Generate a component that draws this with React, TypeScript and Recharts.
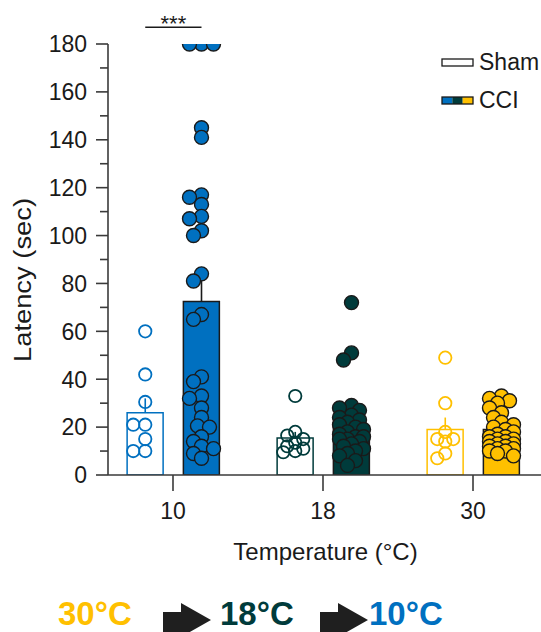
import React from "react";
import { ComposedChart, Bar, Cell, Line, Scatter, XAxis, YAxis, ReferenceLine, Legend } from "recharts";

const FONT = "'Liberation Sans', Arial, Helvetica, sans-serif";
const AXIS = "#3a3a3a";
const INK = "#1a1a1a";

const temps = ["10", "18", "30"];
const tempColors = ["#0070C0", "#003B3B", "#FFC000"];
const yTicks = [0, 10, 20, 30, 40, 50, 60, 70, 80, 90, 100, 110, 120, 130, 140, 150, 160, 170, 180];

// group means / SEM (sec)
const shamMean = [26, 15.5, 19];
const shamSem = [6, 2.5, 5];
const cciMean = [72.5, 20.5, 19];
const cciSem = [10, 2.8, 1.4];

// individual animals (sec)
const sham10 = [60, 42, 30.5, 21, 21, 15, 10, 10];
const cci10 = [180, 180, 180, 145, 141, 117, 116, 113, 108, 107, 102, 100, 84, 81, 67, 65, 41, 39, 33, 32, 28, 24, 20.5, 20, 16, 14, 12, 11, 9, 7];
const sham18 = [33, 18, 16.5, 15, 13.5, 12, 11, 10, 9.5];
const cci18 = [72, 51, 48, 29, 28, 27, 25, 24, 23, 22, 21, 20, 19, 18, 17, 16, 16, 15, 15, 14, 13, 12, 11, 10, 9, 8, 6, 4];
const sham30 = [49, 30, 18, 15, 15, 14, 9, 7];
const cci30 = [33, 32, 31, 30, 28, 26, 24, 22, 21, 20, 19, 18, 17, 16, 16, 15, 15, 14, 14, 13, 13, 12, 12, 11, 11, 10, 10, 9, 8];

const shamPts = [sham10, sham18, sham30];
const cciPts = [cci10, cci18, cci30];

// layout
const W = 541;
const CHART_H = 590;
const TOP = 44;
const BOTTOM = 475;
const LEFT = 108;
const xDomain = [-0.4333, 2.4533];
const pxPerX = (W - LEFT) / (xDomain[1] - xDomain[0]);
const pxPerSec = (BOTTOM - TOP) / 180;
const SHAM_DX = -0.185;
const CCI_DX = 0.19;

// simple beeswarm so overlapping animals spread sideways like the prism plot
function swarm(values: number[], cx: number) {
  const placed: { dx: number; dy: number }[] = [];
  const steps = [0, -4, 4, -8, 8, -12, 12];
  const minDist = 8.5;
  return values.map((v) => {
    const py = v * pxPerSec;
    let best = 0;
    let bestD = -1;
    for (const dx of steps) {
      let d = Infinity;
      for (const p of placed) d = Math.min(d, Math.hypot(p.dx - dx, p.dy - py));
      if (d >= minDist) {
        best = dx;
        break;
      }
      if (d > bestD) {
        bestD = d;
        best = dx;
      }
    }
    placed.push({ dx: best, dy: py });
    return { x: cx + best / pxPerX, y: v };
  });
}

const groups = temps.flatMap((t, i) => [
  { key: `sham${t}`, sham: true, x: i + SHAM_DX, mean: shamMean[i], sem: shamSem[i], pts: shamPts[i], color: tempColors[i] },
  { key: `cci${t}`, sham: false, x: i + CCI_DX, mean: cciMean[i], sem: cciSem[i], pts: cciPts[i], color: tempColors[i] },
]);

const barData = groups.map((g) => ({ x: g.x, mean: g.mean }));

const YTick = (props: any) => {
  const { x, y, payload } = props;
  const major = payload.value % 20 === 0;
  return (
    <g>
      <line x1={major ? x + 9 : x + 13} x2={x + 21} y1={y} y2={y} stroke={AXIS} strokeWidth={1.6} />
      {major && (
        <text x={x} y={y} dy="0.36em" textAnchor="end" fontSize={23} fontFamily={FONT} fill={INK}>
          {payload.value}
        </text>
      )}
    </g>
  );
};

const LegendBox = () => (
  <div style={{ fontFamily: FONT, fontSize: 23, color: INK, lineHeight: "38px" }}>
    <div style={{ display: "flex", alignItems: "center" }}>
      <svg width={33} height={9}>
        <rect x={1} y={1} width={31} height={7} fill="#fff" stroke={INK} strokeWidth={1.3} />
      </svg>
      <span style={{ marginLeft: 5 }}>Sham</span>
    </div>
    <div style={{ display: "flex", alignItems: "center" }}>
      <svg width={33} height={9}>
        <rect x={1} y={1} width={10.3} height={7} fill={tempColors[0]} />
        <rect x={11.3} y={1} width={10.4} height={7} fill={tempColors[1]} />
        <rect x={21.7} y={1} width={10.3} height={7} fill={tempColors[2]} />
        <rect x={1} y={1} width={31} height={7} fill="none" stroke={INK} strokeWidth={1.3} />
      </svg>
      <span style={{ marginLeft: 5 }}>CCI</span>
    </div>
  </div>
);

export default function App() {
  return (
    <div style={{ position: "absolute", left: 0, top: 0, width: W, height: 632, background: "#fff", overflow: "hidden", fontFamily: FONT }}>
      <ComposedChart width={W} height={CHART_H} data={barData} margin={{ top: TOP, right: 0, bottom: 0, left: 0 }}>
        <XAxis
          dataKey="x"
          type="number"
          domain={xDomain}
          allowDataOverflow
          ticks={[0, 1, 2]}
          interval={0}
          tickFormatter={(v: number) => temps[v]}
          height={CHART_H - BOTTOM}
          tickSize={16}
          tickMargin={12}
          axisLine={{ stroke: AXIS, strokeWidth: 1.6 }}
          tickLine={{ stroke: AXIS, strokeWidth: 1.6 }}
          tick={{ fill: INK, fontSize: 23, fontFamily: FONT }}
          label={() => (
            <text x={(LEFT + W) / 2 + 1} y={560} textAnchor="middle" fontSize={24} fontFamily={FONT} fill={INK}>
              Temperature (°C)
            </text>
          )}
        />
        <XAxis xAxisId="pts" dataKey="x" type="number" domain={xDomain} allowDataOverflow hide />
        <YAxis
          type="number"
          domain={[0, 180]}
          allowDataOverflow
          ticks={yTicks}
          interval={0}
          width={LEFT}
          tickLine={false}
          tickSize={12}
          tickMargin={9}
          tick={<YTick />}
          axisLine={{ stroke: AXIS, strokeWidth: 1.6 }}
          label={() => (
            <text
              x={23}
              y={280}
              transform="rotate(-90 23 280)"
              textAnchor="middle"
              dominantBaseline="central"
              fontSize={23}
              textLength={164}
              lengthAdjust="spacingAndGlyphs"
              fontFamily={FONT}
              fill={INK}
            >
              Latency (sec)
            </text>
          )}
        />
        <Legend layout="vertical" align="center" verticalAlign="middle" wrapperStyle={{ left: 441, top: 43, width: 100 }} content={() => <LegendBox />} />
        <Bar dataKey="mean" barSize={36} isAnimationActive={false}>
          {groups.map((g) => (
            <Cell key={g.key} fill={g.sham ? "#fff" : g.color} stroke={g.sham ? g.color : INK} strokeWidth={1.5} />
          ))}
        </Bar>
        {groups.map((g) => (
          <Line
            key={`err-${g.key}`}
            data={[
              { x: g.x, y: g.mean },
              { x: g.x, y: g.mean + g.sem },
            ]}
            dataKey="y"
            stroke={g.sham ? g.color : INK}
            strokeWidth={1.6}
            dot={false}
            activeDot={false}
            isAnimationActive={false}
          />
        ))}
        {groups.map((g) => (
          <Scatter
            key={`pts-${g.key}`}
            xAxisId="pts"
            data={swarm(g.pts, g.x)}
            dataKey="y"
            isAnimationActive={false}
            shape={(p: any) =>
              g.sham ? (
                <circle cx={p.cx} cy={p.cy} r={6.2} fill="none" stroke={g.color} strokeWidth={1.8} />
              ) : (
                <circle cx={p.cx} cy={p.cy} r={7} fill={g.color} stroke={INK} strokeWidth={1.4} />
              )
            }
          />
        ))}
        <ReferenceLine
          segment={[
            { x: SHAM_DX, y: 187 },
            { x: CCI_DX, y: 187 },
          ]}
          stroke={INK}
          strokeWidth={1.5}
          ifOverflow="visible"
          label={(p: any) => {
            const vb = p.viewBox || { x: 146, y: 27, width: 56 };
            return (
              <text x={vb.x + vb.width / 2} y={vb.y + 4} textAnchor="middle" fontSize={22} fontFamily={FONT} fill={INK}>
                ***
              </text>
            );
          }}
        />
      </ComposedChart>
      <svg style={{ position: "absolute", left: 0, top: 560 }} width={W} height={72}>
        <text x={58} y={65} fontSize={33} fontWeight="bold" fontFamily={FONT} fill={tempColors[2]}>
          30°C
        </text>
        <polygon points="163,52 181,52 181,43 211,60 181,77 181,72 163,72" fill="#1f1f1f" />
        <text x={220} y={65} fontSize={33} fontWeight="bold" fontFamily={FONT} fill={tempColors[1]}>
          18°C
        </text>
        <polygon points="320,52 338,52 338,43 368,60 338,77 338,72 320,72" fill="#1f1f1f" />
        <text x={369} y={65} fontSize={33} fontWeight="bold" fontFamily={FONT} fill={tempColors[0]}>
          10°C
        </text>
      </svg>
    </div>
  );
}
